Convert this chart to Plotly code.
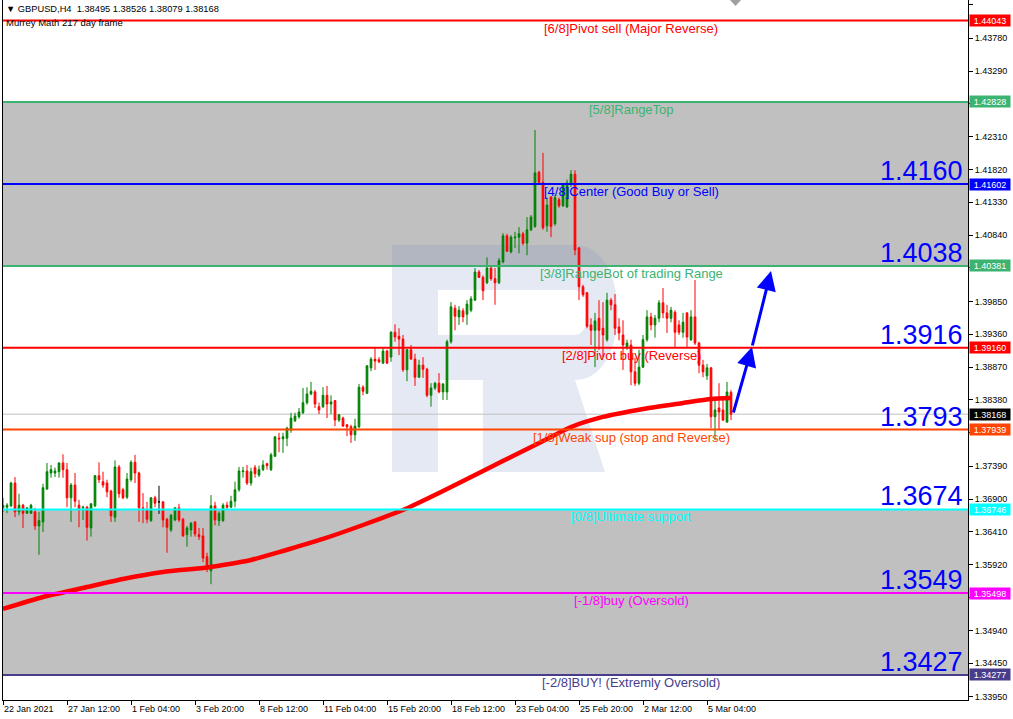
import plotly.graph_objects as go

# ---------------- data (GBPUSD H4) ----------------
opens = [1.3677, 1.3678, 1.3680, 1.3714, 1.3671, 1.3681, 1.3669, 1.3669, 1.3671, 1.3650,
         1.3656, 1.3705, 1.3729, 1.3729, 1.3731, 1.3744, 1.3734, 1.3692, 1.3711, 1.3681,
         1.3677, 1.3678, 1.3647, 1.3680, 1.3725, 1.3716, 1.3714, 1.3702, 1.3663, 1.3738,
         1.3704, 1.3693, 1.3719, 1.3745, 1.3729, 1.3677, 1.3674, 1.3658, 1.3692, 1.3686,
         1.3686, 1.3660, 1.3644, 1.3659, 1.3677, 1.3660, 1.3637, 1.3644, 1.3656, 1.3637,
         1.3635, 1.3604, 1.3583, 1.3680, 1.3658, 1.3658, 1.3681, 1.3678, 1.3687, 1.3704,
         1.3731, 1.3732, 1.3714, 1.3737, 1.3726, 1.3734, 1.3743, 1.3734, 1.3754, 1.3781,
         1.3780, 1.3781, 1.3793, 1.3807, 1.3813, 1.3819, 1.3834, 1.3847, 1.3850, 1.3828,
         1.3828, 1.3845, 1.3832, 1.3837, 1.3808, 1.3811, 1.3801, 1.3798, 1.3786, 1.3798,
         1.3857, 1.3848, 1.3886, 1.3899, 1.3898, 1.3893, 1.3911, 1.3902, 1.3939, 1.3933,
         1.3929, 1.3883, 1.3913, 1.3899, 1.3872, 1.3890, 1.3884, 1.3845, 1.3856, 1.3863,
         1.3850, 1.3850, 1.3925, 1.3975, 1.3962, 1.3971, 1.3966, 1.3972, 1.3987, 1.4029,
         1.4021, 1.4013, 1.4035, 1.4019, 1.4013, 1.4044, 1.4083, 1.4059, 1.4080, 1.4081,
         1.4086, 1.4072, 1.4092, 1.4097, 1.4178, 1.4163, 1.4098, 1.4141, 1.4101, 1.4137,
         1.4128, 1.4126, 1.4162, 1.4175, 1.4065, 1.4007, 1.3998, 1.3950, 1.3942, 1.3960,
         1.3945, 1.3928, 1.3987, 1.3980, 1.3947, 1.3935, 1.3917, 1.3920, 1.3880, 1.3863,
         1.3887, 1.3928, 1.3962, 1.3950, 1.3960, 1.3983, 1.3968, 1.3960, 1.3969, 1.3950,
         1.3939, 1.3968, 1.3928, 1.3962, 1.3923, 1.3890, 1.3874, 1.3886, 1.3813, 1.3826,
         1.3823, 1.3805, 1.38495]
highs = [1.3692, 1.3684, 1.3716, 1.3723, 1.3698, 1.3683, 1.3678, 1.3683, 1.3677, 1.3671,
         1.3713, 1.3744, 1.3741, 1.3737, 1.3745, 1.3757, 1.3744, 1.3714, 1.3729, 1.3689,
         1.3680, 1.3680, 1.3684, 1.3726, 1.3745, 1.3731, 1.3719, 1.3704, 1.3748, 1.3741,
         1.3707, 1.3729, 1.3748, 1.3756, 1.3731, 1.3699, 1.3686, 1.3693, 1.3695, 1.3710,
         1.3687, 1.3662, 1.3668, 1.3678, 1.3683, 1.3662, 1.3650, 1.3656, 1.3657, 1.3647,
         1.3647, 1.3610, 1.3696, 1.3686, 1.3672, 1.3684, 1.3686, 1.3695, 1.3716, 1.3738,
         1.3738, 1.3741, 1.3737, 1.3741, 1.3740, 1.3748, 1.3744, 1.3759, 1.3784, 1.3789,
         1.3789, 1.3798, 1.3819, 1.3819, 1.3826, 1.3856, 1.3857, 1.3865, 1.3853, 1.3834,
         1.3857, 1.3859, 1.3845, 1.3838, 1.3817, 1.3813, 1.3802, 1.3801, 1.3810, 1.3862,
         1.3860, 1.3890, 1.3902, 1.3916, 1.3902, 1.3917, 1.3913, 1.3941, 1.3951, 1.3945,
         1.3935, 1.3914, 1.3920, 1.3907, 1.3898, 1.3902, 1.3886, 1.3863, 1.3865, 1.3878,
         1.3863, 1.3928, 1.3984, 1.3980, 1.3978, 1.3975, 1.3987, 1.3993, 1.4035, 1.4032,
         1.4024, 1.4051, 1.4038, 1.4035, 1.4050, 1.4087, 1.4086, 1.4084, 1.4089, 1.4096,
         1.4089, 1.4111, 1.4114, 1.4241, 1.4180, 1.4207, 1.4140, 1.4142, 1.4144, 1.4140,
         1.4162, 1.4167, 1.4181, 1.4181, 1.4066, 1.4010, 1.3999, 1.3960, 1.3968, 1.3987,
         1.3984, 1.3998, 1.3990, 1.3996, 1.3960, 1.3957, 1.3928, 1.3928, 1.3901, 1.3913,
         1.3935, 1.3972, 1.3968, 1.3965, 1.3987, 1.4005, 1.3980, 1.3977, 1.3972, 1.3957,
         1.3968, 1.3969, 1.3972, 1.4017, 1.3925, 1.3898, 1.3892, 1.3887, 1.3838, 1.3863,
         1.3842, 1.3865, 1.38526]
lows = [1.3671, 1.3669, 1.3678, 1.3663, 1.3666, 1.3647, 1.3668, 1.3668, 1.3644, 1.3607,
        1.3641, 1.3704, 1.3722, 1.3723, 1.3722, 1.3722, 1.3678, 1.3656, 1.3678, 1.3648,
        1.3659, 1.3628, 1.3634, 1.3678, 1.3714, 1.3707, 1.3693, 1.3656, 1.3656, 1.3692,
        1.3690, 1.3690, 1.3716, 1.3714, 1.3656, 1.3654, 1.3654, 1.3656, 1.3678, 1.3668,
        1.3648, 1.3610, 1.3641, 1.3657, 1.3656, 1.3634, 1.3619, 1.3634, 1.3634, 1.3629,
        1.3596, 1.3581, 1.3563, 1.3651, 1.3650, 1.3656, 1.3674, 1.3677, 1.3678, 1.3701,
        1.3722, 1.3711, 1.3710, 1.3722, 1.3723, 1.3732, 1.3734, 1.3732, 1.3753, 1.3760,
        1.3759, 1.3769, 1.3789, 1.3805, 1.3810, 1.3817, 1.3831, 1.3845, 1.3826, 1.3817,
        1.3826, 1.3811, 1.3817, 1.3799, 1.3805, 1.3798, 1.3784, 1.3774, 1.3777, 1.3796,
        1.3845, 1.3847, 1.3881, 1.3883, 1.3893, 1.3892, 1.3892, 1.3895, 1.3925, 1.3905,
        1.3880, 1.3866, 1.3898, 1.3859, 1.3871, 1.3871, 1.3842, 1.3828, 1.3853, 1.3848,
        1.3838, 1.3838, 1.3922, 1.3942, 1.3950, 1.3954, 1.3950, 1.3969, 1.3986, 1.4020,
        1.3987, 1.4011, 1.4016, 1.3980, 1.4011, 1.4042, 1.4059, 1.4057, 1.4065, 1.4057,
        1.4069, 1.4054, 1.4090, 1.4095, 1.4162, 1.4092, 1.4089, 1.4081, 1.4098, 1.4125,
        1.4126, 1.4125, 1.4156, 1.4054, 1.3987, 1.3992, 1.3945, 1.3920, 1.3887, 1.3913,
        1.3902, 1.3925, 1.3972, 1.3935, 1.3927, 1.3883, 1.3913, 1.3860, 1.3859, 1.3860,
        1.3886, 1.3925, 1.3942, 1.3931, 1.3954, 1.3960, 1.3938, 1.3954, 1.3917, 1.3935,
        1.3931, 1.3917, 1.3926, 1.3920, 1.3878, 1.3872, 1.3868, 1.3796, 1.3778, 1.3793,
        1.3807, 1.3804, 1.38079]
closes = [1.3681, 1.3681, 1.3714, 1.3671, 1.3681, 1.3669, 1.3677, 1.3681, 1.3650, 1.3658,
          1.3707, 1.3731, 1.3734, 1.3732, 1.3744, 1.3734, 1.3692, 1.3711, 1.3687, 1.3674,
          1.3678, 1.3648, 1.3683, 1.3725, 1.3719, 1.3711, 1.3701, 1.3665, 1.3738, 1.3698,
          1.3692, 1.3720, 1.3745, 1.3729, 1.3677, 1.3674, 1.3660, 1.3692, 1.3684, 1.3686,
          1.3659, 1.3648, 1.3666, 1.3677, 1.3659, 1.3635, 1.3647, 1.3654, 1.3638, 1.3634,
          1.3602, 1.3587, 1.3680, 1.3659, 1.3669, 1.3681, 1.3678, 1.3687, 1.3704, 1.3732,
          1.3732, 1.3714, 1.3731, 1.3728, 1.3734, 1.3741, 1.3740, 1.3756, 1.3783, 1.3780,
          1.3783, 1.3796, 1.3811, 1.3814, 1.3820, 1.3834, 1.3847, 1.3851, 1.3832, 1.3823,
          1.3845, 1.3832, 1.3835, 1.3808, 1.3816, 1.3799, 1.3798, 1.3786, 1.3799, 1.3857,
          1.3851, 1.3889, 1.3899, 1.3896, 1.3895, 1.3911, 1.3893, 1.3939, 1.3932, 1.3929,
          1.3883, 1.3913, 1.3899, 1.3872, 1.3890, 1.3884, 1.3845, 1.3856, 1.3863, 1.3850,
          1.3862, 1.3925, 1.3977, 1.3963, 1.3972, 1.3962, 1.3981, 1.3989, 1.4029, 1.4021,
          1.4001, 1.4035, 1.4019, 1.4013, 1.4046, 1.4083, 1.4060, 1.4081, 1.4081, 1.4086,
          1.4072, 1.4092, 1.4111, 1.4177, 1.4163, 1.4095, 1.4129, 1.4097, 1.4140, 1.4128,
          1.4159, 1.4162, 1.4175, 1.4062, 1.4007, 1.3995, 1.3948, 1.3942, 1.3956, 1.3942,
          1.3935, 1.3987, 1.3980, 1.3945, 1.3938, 1.3920, 1.3923, 1.3880, 1.3863, 1.3887,
          1.3928, 1.3962, 1.3950, 1.3960, 1.3983, 1.3968, 1.3960, 1.3972, 1.3939, 1.3939,
          1.3954, 1.3932, 1.3962, 1.3923, 1.3890, 1.3880, 1.3886, 1.3813, 1.3823, 1.3820,
          1.3808, 1.3850, 1.38168]

# moving average read at selected bars
ma_index = [0, 10, 20, 30, 40, 50, 55, 62, 70, 80, 90, 100, 110, 120, 130, 137, 142,
            150, 160, 170, 177, 182]
ma_values = [1.35261, 1.35440, 1.35574, 1.35709, 1.35813, 1.35873, 1.35917, 1.35992,
             1.36126, 1.36306, 1.36514, 1.36738, 1.37022, 1.37320, 1.37619, 1.37828,
             1.37977, 1.38127, 1.38246, 1.38335, 1.38395, 1.38410]

x_tick_index = [0, 16, 32, 48, 64, 80, 96, 112, 128, 144, 160, 176]
x_tick_labels = ["22 Jan 2021", "27 Jan 12:00", "1 Feb 04:00", "3 Feb 20:00",
                 "8 Feb 12:00", "11 Feb 04:00", "15 Feb 20:00", "18 Feb 12:00",
                 "23 Feb 04:00", "25 Feb 20:00", "2 Mar 12:00", "5 Mar 04:00"]
y_tick_values = [1.44280, 1.43780, 1.43290, 1.42800, 1.42310, 1.41820, 1.41330,
                 1.40840, 1.40350, 1.39850, 1.39360, 1.38870, 1.38380, 1.37890,
                 1.37390, 1.36900, 1.36410, 1.35920, 1.35430, 1.34940, 1.34450, 1.33950]

level_prices = [1.44043, 1.42828, 1.41602, 1.40381, 1.39160, 1.37939, 1.36746, 1.35498, 1.34277]
level_names = ["[6/8]Pivot sell (Major Reverse)", "[5/8]RangeTop",
               "[4/8]Center (Good Buy or Sell)", "[3/8]RangeBot of trading Range",
               "[2/8]Pivot buy (Reverse)", "[1/8]Weak sup (stop and Reverse)",
               "[0/8]Ultimate support", "[-1/8]buy (Oversold)",
               "[-2/8]BUY! (Extremly Oversold)"]
level_colors = ["#FF0000", "#3CB371", "#0000FF", "#3CB371", "#FF0000", "#FF4500",
                "#00FFFF", "#FF00FF", "#483D8B"]
big_level_prices = [1.41602, 1.40381, 1.39160, 1.37939, 1.36746, 1.35498, 1.34277]
big_level_labels = ["1.4160", "1.4038", "1.3916", "1.3793", "1.3674", "1.3549", "1.3427"]
grey_zones = [(1.42828, 1.40381), (1.36746, 1.34277)]
current_price = 1.38168
arrow_x = [182.5, 187.25, 192.0]
arrow_y = [1.38171, 1.39171, 1.40305]
symbol_title = "GBPUSD,H4"
indicator_title = "Murrey Math 217 day frame"

# ---------------- layout geometry ----------------
W, H = 1013, 719
PL, PR, PT, PB = 3, 968, 0, 700
Y_TOP, Y_BOT = 1.44350, 1.33902
X_MIN, X_MAX = 0, 241.25
FONT = "Liberation Sans, Arial, sans-serif"


def px(x):
    return (x - PL) / (PR - PL)


def py(y):
    return 1 - (y - PT) / (PB - PT)


def pt(x, y):
    return f"{px(x):.5f},{py(y):.5f}"


def poly(points):
    s = "M " + pt(*points[0])
    for p in points[1:]:
        s += " L " + pt(*p)
    return s + " Z"


fig = go.Figure()

idx = list(range(len(opens)))
main = [i for i in idx if opens[i] != closes[i]]
doji = [i for i in idx if opens[i] == closes[i]]

fig.add_trace(go.Candlestick(
    x=main, open=[opens[i] for i in main], high=[highs[i] for i in main],
    low=[lows[i] for i in main], close=[closes[i] for i in main],
    increasing=dict(line=dict(color="#008000", width=1), fillcolor="#008000"),
    decreasing=dict(line=dict(color="#FF0000", width=1), fillcolor="#FF0000"),
    whiskerwidth=0, showlegend=False, hoverinfo="skip"))
if doji:
    fig.add_trace(go.Candlestick(
        x=doji, open=[opens[i] for i in doji], high=[highs[i] for i in doji],
        low=[lows[i] for i in doji], close=[closes[i] for i in doji],
        increasing=dict(line=dict(color="#000000", width=1), fillcolor="#000000"),
        decreasing=dict(line=dict(color="#000000", width=1), fillcolor="#000000"),
        whiskerwidth=0, showlegend=False, hoverinfo="skip"))

fig.add_trace(go.Scatter(x=ma_index, y=ma_values, mode="lines",
                         line=dict(color="#FF0000", width=4.5, shape="spline", smoothing=0.6),
                         showlegend=False, hoverinfo="skip"))

shapes = []
# grey zones
for y0, y1 in grey_zones:
    shapes.append(dict(type="rect", xref="paper", yref="y", x0=0, x1=1, y0=y0, y1=y1,
                       fillcolor="#C0C0C0", line=dict(width=0), layer="below"))
# watermark "R"
wm = "rgba(110,140,190,0.19)"
wm_paths = [
    poly([(392, 245), (438, 245), (438, 472), (392, 472)]),
    poly([(438, 245), (575, 245), (575, 290), (438, 290)]),
    poly([(438, 335), (575, 335), (575, 380), (438, 380)]),
    ("M " + pt(575, 245) + " C " + pt(632, 245) + " " + pt(632, 380) + " " + pt(575, 380)
     + " L " + pt(575, 335) + " C " + pt(592, 335) + " " + pt(592, 290) + " " + pt(575, 290)
     + " Z"),
    poly([(483, 380), (575, 380), (605, 472), (483, 472)]),
]
for path in wm_paths:
    shapes.append(dict(type="path", xref="paper", yref="paper", path=path,
                       fillcolor=wm, line=dict(width=0), layer="below"))
# current price line
shapes.append(dict(type="line", xref="paper", yref="y", x0=0, x1=1,
                   y0=current_price, y1=current_price,
                   line=dict(color="#C0C0C0", width=1), layer="below"))
# level lines
for p, c in zip(level_prices, level_colors):
    shapes.append(dict(type="line", xref="paper", yref="y", x0=0, x1=1, y0=p, y1=p,
                       line=dict(color=c, width=2), layer="above"))
# chart-shift marker
shapes.append(dict(type="path", xref="paper", yref="paper",
                   path=poly([(730, 0), (741, 0), (735.5, 6)]),
                   fillcolor="#A0A0A0", line=dict(width=0), layer="above"))

ann = []
for p, name, c in zip(level_prices, level_names, level_colors):
    ann.append(dict(xref="paper", yref="y", x=px(631), y=p, text=name, showarrow=False,
                    xanchor="center", yanchor="top", yshift=2,
                    font=dict(family=FONT, size=13, color=c)))
for p, lab in zip(big_level_prices, big_level_labels):
    ann.append(dict(xref="paper", yref="y", x=1, y=p, text=lab, showarrow=False,
                    xanchor="right", yanchor="bottom", xshift=-3, yshift=-4,
                    font=dict(family=FONT, size=27, color="#0000FF")))
# right price boxes
boxed = list(zip(level_prices, level_colors)) + [(current_price, "#000000")]
for p, c in boxed:
    ann.append(dict(xref="paper", yref="y", x=1, y=p, text=f"{p:.5f}", showarrow=False,
                    xanchor="left", yanchor="middle", xshift=1, width=40, height=11,
                    bgcolor=c, borderpad=0,
                    font=dict(family=FONT, size=9, color="#FFFFFF")))
# header
ann.append(dict(xref="paper", yref="paper", x=px(4), y=py(9),
                text=(f"\u25BC {symbol_title}&nbsp; {opens[-1]:.5f} {highs[-1]:.5f} "
                      f"{lows[-1]:.5f} {closes[-1]:.5f}"),
                showarrow=False, xanchor="left", yanchor="middle",
                font=dict(family=FONT, size=9.3, color="#000000")))
ann.append(dict(xref="paper", yref="paper", x=px(4), y=py(22), text=indicator_title,
                showarrow=False, xanchor="left", yanchor="middle",
                font=dict(family=FONT, size=9.5, color="#000000")))
# forecast arrow
for k in range(len(arrow_x) - 1):
    ann.append(dict(xref="x", yref="y", axref="x", ayref="y",
                    x=arrow_x[k + 1], y=arrow_y[k + 1], ax=arrow_x[k], ay=arrow_y[k],
                    text="", showarrow=True, arrowhead=2, arrowsize=1.3,
                    arrowwidth=3, arrowcolor="#0000FF"))

# tick labels hidden behind price boxes are left blank
y_tick_text = [("" if any(abs(v - p) < 0.0007 for p, _ in boxed) else f"{v:.5f}")
               for v in y_tick_values]

fig.update_layout(
    width=W, height=H, autosize=False,
    margin=dict(l=PL, r=W - PR, t=PT, b=H - PB, pad=0),
    paper_bgcolor="#FFFFFF", plot_bgcolor="#FFFFFF",
    shapes=shapes, annotations=ann, showlegend=False,
    boxgap=0.4, dragmode=False, hovermode=False,
    font=dict(family=FONT, size=9, color="#000000"),
    xaxis=dict(range=[X_MIN, X_MAX], showgrid=False, zeroline=False,
               rangeslider=dict(visible=False), showline=True, linecolor="#000000",
               linewidth=1, ticks="outside", ticklen=4, tickcolor="#000000",
               tickvals=x_tick_index, ticktext=x_tick_labels,
               ticklabelposition="outside right",
               tickfont=dict(family=FONT, size=9, color="#000000")),
    yaxis=dict(range=[Y_BOT, Y_TOP], side="right", showgrid=False, zeroline=False,
               showline=True, mirror=True, linecolor="#000000", linewidth=1,
               ticks="outside", ticklen=4, tickcolor="#000000",
               tickvals=y_tick_values, ticktext=y_tick_text,
               tickfont=dict(family=FONT, size=9, color="#000000")),
)

fig.write_html("out.html", config={"displayModeBar": False},
               post_script="document.body.style.margin='0px';"
                           "document.body.style.overflow='hidden';")
